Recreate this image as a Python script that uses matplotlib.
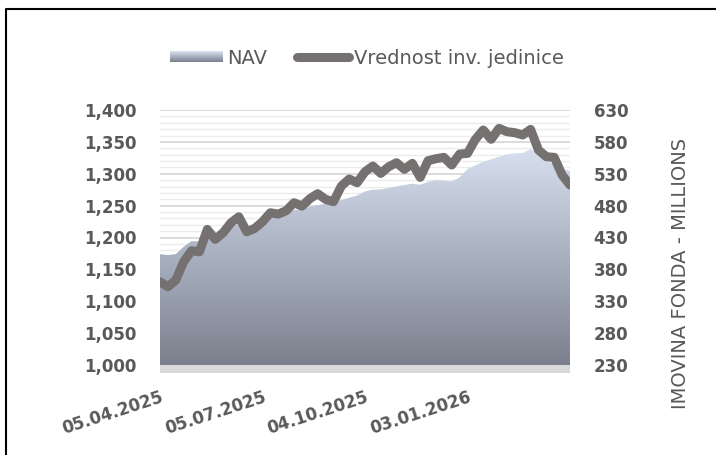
import numpy as np
import pandas as pd
import matplotlib
matplotlib.use("Agg")
import matplotlib.pyplot as plt
import matplotlib.dates as mdates
from matplotlib.colors import LinearSegmentedColormap
from matplotlib.patches import Rectangle
from matplotlib.lines import Line2D
from matplotlib.image import BboxImage
from matplotlib.transforms import Bbox, TransformedBbox
from matplotlib.legend_handler import HandlerBase

# weekly observations, first one on 05.04.2025
start_date = "2025-04-05"
n_weeks = 53

# Vrednost inv. jedinice (left axis)
unit_value = [1130.5, 1122.7, 1133.1, 1161.9, 1179.2, 1177.6, 1212.7, 1197.0, 1207.4, 1223.1,
              1232.5, 1209.0, 1214.2, 1224.7, 1238.8, 1236.7, 1242.0, 1254.5, 1249.3, 1260.8,
              1268.7, 1259.8, 1256.1, 1280.7, 1291.7, 1285.9, 1303.2, 1312.1, 1300.6, 1311.0,
              1317.3, 1306.9, 1316.3, 1294.3, 1320.5, 1323.6, 1325.7, 1313.7, 1330.9, 1332.0,
              1354.0, 1368.6, 1354.0, 1371.2, 1366.0, 1364.4, 1360.8, 1369.6, 1337.2, 1326.7,
              1325.7, 1298.0, 1282.3]

# NAV in millions (right axis)
nav = [403.9, 402.4, 403.9, 415.5, 424.3, 423.8, 431.2, 436.4, 438.5, 446.8,
       451.0, 445.3, 447.9, 455.2, 462.0, 464.1, 467.8, 473.0, 475.1, 478.2,
       480.9, 483.0, 485.6, 488.7, 492.4, 496.0, 502.3, 504.9, 505.5, 507.6,
       510.2, 512.3, 514.4, 512.8, 517.5, 520.1, 519.1, 518.0, 524.3, 537.4,
       543.1, 548.9, 552.6, 556.7, 560.4, 562.0, 562.5, 568.8, 562.0, 550.5,
       544.2, 537.4, 534.8]

tick_dates = ["2025-04-05", "2025-07-05", "2025-10-04", "2026-01-03"]
tick_labels = ["05.04.2025", "05.07.2025", "04.10.2025", "03.01.2026"]

left_ticks = list(range(1000, 1401, 50))
right_ticks = list(range(230, 631, 50))

grey_text = "#595959"
line_color = "#767171"
nav_cmap = LinearSegmentedColormap.from_list("nav", ["#7c808d", "#a9b1c1", "#d9e1f1"])

dates = pd.date_range(start_date, periods=n_weeks, freq="7D")


class HandlerGradient(HandlerBase):
    def create_artists(self, legend, orig_handle, xdescent, ydescent, width, height, fontsize, trans):
        bb = Bbox.from_bounds(-xdescent, -ydescent + height * 0.1, width, height * 0.75)
        im = BboxImage(TransformedBbox(bb, trans), cmap=nav_cmap, interpolation="bicubic", origin="lower")
        im.set_data(np.linspace(0.15, 0.95, 30).reshape(-1, 1))
        return [im]


fig = plt.figure(figsize=(7.16, 4.55), dpi=100)
ax = fig.add_axes([160 / 716, 1 - 365 / 455, 410 / 716, 255 / 455])
ax2 = ax.twinx()

# NAV area with vertical gradient, on its own (right) scale
poly = ax.fill_between(dates, 230, nav, facecolor="none", edgecolor="none")
x0, x1 = mdates.date2num(dates[0]), mdates.date2num(dates[-1])
grad = np.linspace(0, 1, 256).reshape(-1, 1)
im = ax.imshow(grad, extent=[x0, x1, 230, 575], aspect="auto", cmap=nav_cmap,
               origin="lower", zorder=2, interpolation="bicubic")
im.set_clip_path(poly.get_paths()[0], ax.transData)

ax.set_xlim(dates[0], dates[-1])
ax.set_ylim(230, 630)
ax.set_yticks(right_ticks)
ax.set_yticks(range(230, 631, 10), minor=True)
ax.set_yticklabels([str(v) for v in right_ticks])
ax.grid(which="major", axis="y", color="#d9d9d9", lw=1.3)
ax.grid(which="minor", axis="y", color="#ececec", lw=1.0)
ax.set_axisbelow(True)
ax.yaxis.set_ticks_position("right")
ax.tick_params(axis="y", which="both", length=0, pad=17, labelsize=12, labelcolor=grey_text)
for lbl in ax.get_yticklabels():
    lbl.set_fontweight("bold")

ax.set_xticks(pd.to_datetime(tick_dates))
ax.set_xticklabels(tick_labels, rotation=18, ha="right", rotation_mode="anchor",
                   fontsize=12, fontweight="bold", color=grey_text)
ax.tick_params(axis="x", length=0, pad=17)

# floor band under the plot
ax.add_patch(Rectangle((0, -8 / 255), 1, 8 / 255, transform=ax.transAxes,
                       facecolor="#d9d9d9", edgecolor="none", clip_on=False))

# unit value line on the left scale
ax2.plot(dates, unit_value, color=line_color, lw=6.5,
         solid_capstyle="round", solid_joinstyle="round")
ax2.set_ylim(1000, 1400)
ax2.set_yticks(left_ticks)
ax2.set_yticklabels([f"{v:,}" for v in left_ticks])
ax2.yaxis.set_ticks_position("left")
ax2.tick_params(axis="y", length=0, pad=17, labelsize=12, labelcolor=grey_text)
for lbl in ax2.get_yticklabels():
    lbl.set_fontweight("bold")

for a in (ax, ax2):
    for s in a.spines.values():
        s.set_visible(False)

fig.text(680 / 716, 1 - 273 / 455, "IMOVINA FONDA - MILLIONS", rotation=90,
         ha="center", va="center", fontsize=14, color=grey_text)

nav_handle = Rectangle((0, 0), 1, 1)
line_handle = Line2D([], [], color=line_color, lw=6.5, solid_capstyle="round")
fig.legend([nav_handle, line_handle], ["NAV", "Vrednost inv. jedinice"],
           loc="center", bbox_to_anchor=(367 / 716, 1 - 58 / 455), ncol=2, frameon=False,
           fontsize=14, labelcolor=grey_text, handlelength=2.7, handletextpad=0.25,
           columnspacing=1.5, borderpad=0, handler_map={nav_handle: HandlerGradient()})

# frame visible on top and left edge
fig.add_artist(Line2D([6 / 716, 6 / 716, 1], [0, 1 - 9 / 455, 1 - 9 / 455],
                      transform=fig.transFigure, color="black", lw=1.5))

fig.savefig("out.png", dpi=100)
